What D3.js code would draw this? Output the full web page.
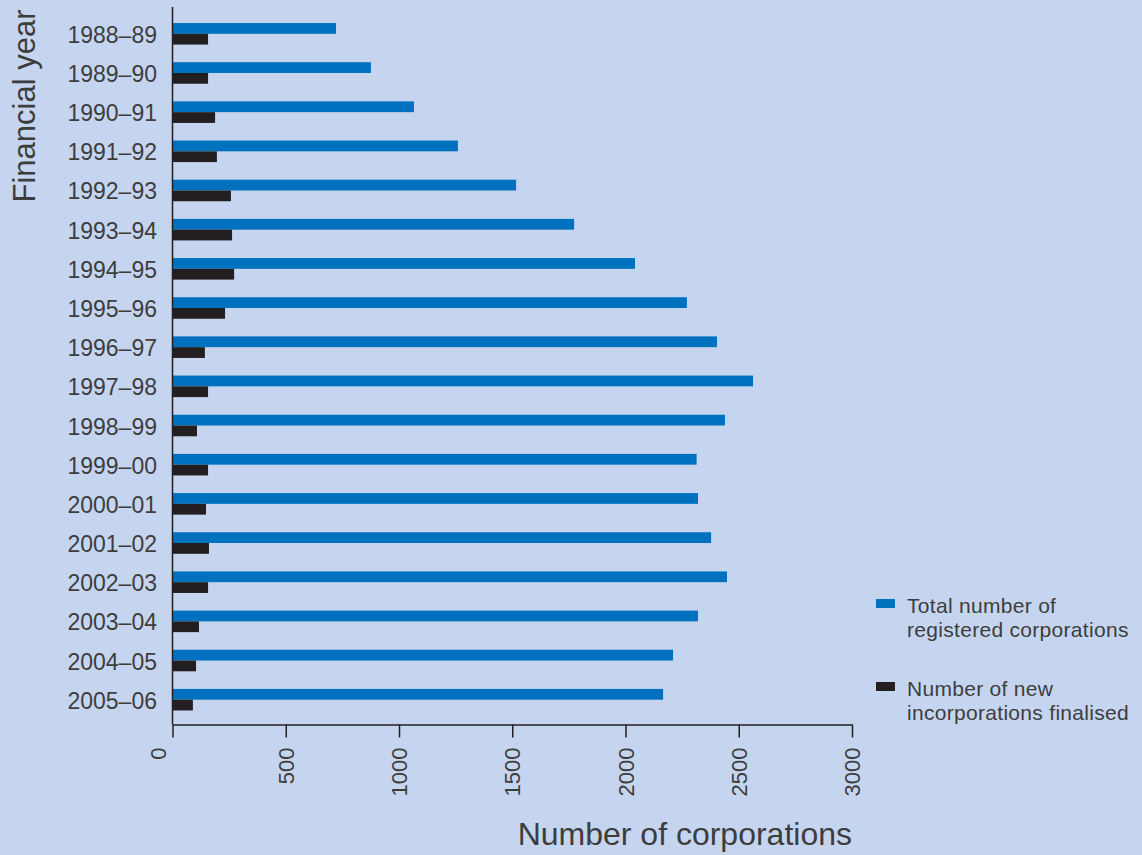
<!DOCTYPE html>
<html>
<head>
<meta charset="utf-8">
<script src="https://cdn.jsdelivr.net/npm/d3@7"></script>
<style>
  html, body { margin: 0; padding: 0; background: #c6d5ef; }
  svg { display: block; }
  text { font-family: "Liberation Sans", Arial, sans-serif; fill: #3d3d3d; }
</style>
</head>
<body>
<div id="chart"></div>
<script>
// Data
const categories = ["1988\u201389", "1989\u201390", "1990\u201391", "1991\u201392", "1992\u201393",
    "1993\u201394", "1994\u201395", "1995\u201396", "1996\u201397", "1997\u201398", "1998\u201399",
    "1999\u201300", "2000\u201301", "2001\u201302", "2002\u201303", "2003\u201304", "2004\u201305", "2005\u201306"];
const totalRegistered = [722, 876, 1066, 1260, 1517, 1773, 2042, 2271, 2404, 2563, 2439,
    2314, 2320, 2378, 2448, 2320, 2210, 2166];
const newIncorporations = [157, 157, 188, 196, 258, 263, 272, 232, 143, 157, 108,
    157, 148, 161, 157, 117, 104, 90];
const xTicks = [0, 500, 1000, 1500, 2000, 2500, 3000];
const legendItems = [
    { lines: ["Total number of", "registered corporations"], color: "#0071bf" },
    { lines: ["Number of new", "incorporations finalised"], color: "#231f20" }
];

const width = 1142, height = 855;
const x0 = 172.5, x1 = 852, axisY = 724.5;

const svg = d3.select("#chart").append("svg")
    .attr("width", width)
    .attr("height", height);

svg.append("rect")
    .attr("width", width)
    .attr("height", height)
    .attr("fill", "#c6d5ef");

const x = d3.scaleLinear().domain([0, 3000]).range([x0, x1]);

const y = d3.scaleBand()
    .domain(categories)
    .range([15.2, 718.3])
    .paddingInner(0.45)
    .paddingOuter(0.2);

const sub = d3.scaleBand()
    .domain(["total", "new"])
    .range([0, y.bandwidth()]);

// bars
const groups = svg.append("g").selectAll("g")
    .data(categories)
    .join("g")
    .attr("transform", d => `translate(0,${y(d)})`);

groups.append("rect")
    .attr("x", x(0))
    .attr("y", sub("total"))
    .attr("width", (d, i) => x(totalRegistered[i]) - x(0))
    .attr("height", sub.bandwidth())
    .attr("fill", legendItems[0].color);

groups.append("rect")
    .attr("x", x(0))
    .attr("y", sub("new"))
    .attr("width", (d, i) => x(newIncorporations[i]) - x(0))
    .attr("height", sub.bandwidth())
    .attr("fill", legendItems[1].color);

// category labels
svg.append("g").selectAll("text")
    .data(categories)
    .join("text")
    .attr("x", 157)
    .attr("y", d => y(d) + y.bandwidth() / 2 + 9)
    .attr("text-anchor", "end")
    .attr("font-size", 23)
    .text(d => d);

// y axis line
svg.append("line")
    .attr("x1", x0).attr("x2", x0)
    .attr("y1", 7).attr("y2", axisY)
    .attr("stroke", "#231f20")
    .attr("stroke-width", 1.5);

// x axis
const xAxis = svg.append("g")
    .attr("transform", `translate(0,${axisY})`)
    .call(d3.axisBottom(x).tickValues(xTicks).tickSize(13).tickSizeOuter(0).tickFormat(d3.format("d")));

xAxis.select(".domain")
    .attr("stroke", "#231f20")
    .attr("stroke-width", 1.5);
xAxis.selectAll(".tick line")
    .attr("stroke", "#231f20")
    .attr("stroke-width", 1.5);
xAxis.selectAll(".tick text")
    .attr("font-family", "Liberation Sans, Arial, sans-serif")
    .attr("font-size", 22)
    .attr("fill", "#3d3d3d")
    .attr("text-anchor", "end")
    .attr("transform", d => `translate(${d === 0 ? -15 : 0},0) rotate(-90)`)
    .attr("x", -23)
    .attr("y", 0)
    .attr("dy", "0.35em");

// axis titles
svg.append("text")
    .attr("transform", "translate(35,106) rotate(-90)")
    .attr("text-anchor", "middle")
    .attr("font-size", 31)
    .text("Financial year");

svg.append("text")
    .attr("x", x1)
    .attr("y", 845)
    .attr("text-anchor", "end")
    .attr("font-size", 32)
    .text("Number of corporations");

// legend
const legend = svg.append("g").selectAll("g")
    .data(legendItems)
    .join("g")
    .attr("transform", (d, i) => `translate(876,${599 + i * 83})`);

legend.append("rect")
    .attr("width", 19)
    .attr("height", 9)
    .attr("fill", d => d.color);

legend.append("text")
    .attr("x", 31)
    .attr("y", 14)
    .attr("font-size", 21)
    .attr("letter-spacing", 0.3)
    .selectAll("tspan")
    .data(d => d.lines)
    .join("tspan")
    .attr("x", 31)
    .attr("dy", (d, i) => i === 0 ? 0 : 24)
    .text(d => d);
</script>
</body>
</html>
